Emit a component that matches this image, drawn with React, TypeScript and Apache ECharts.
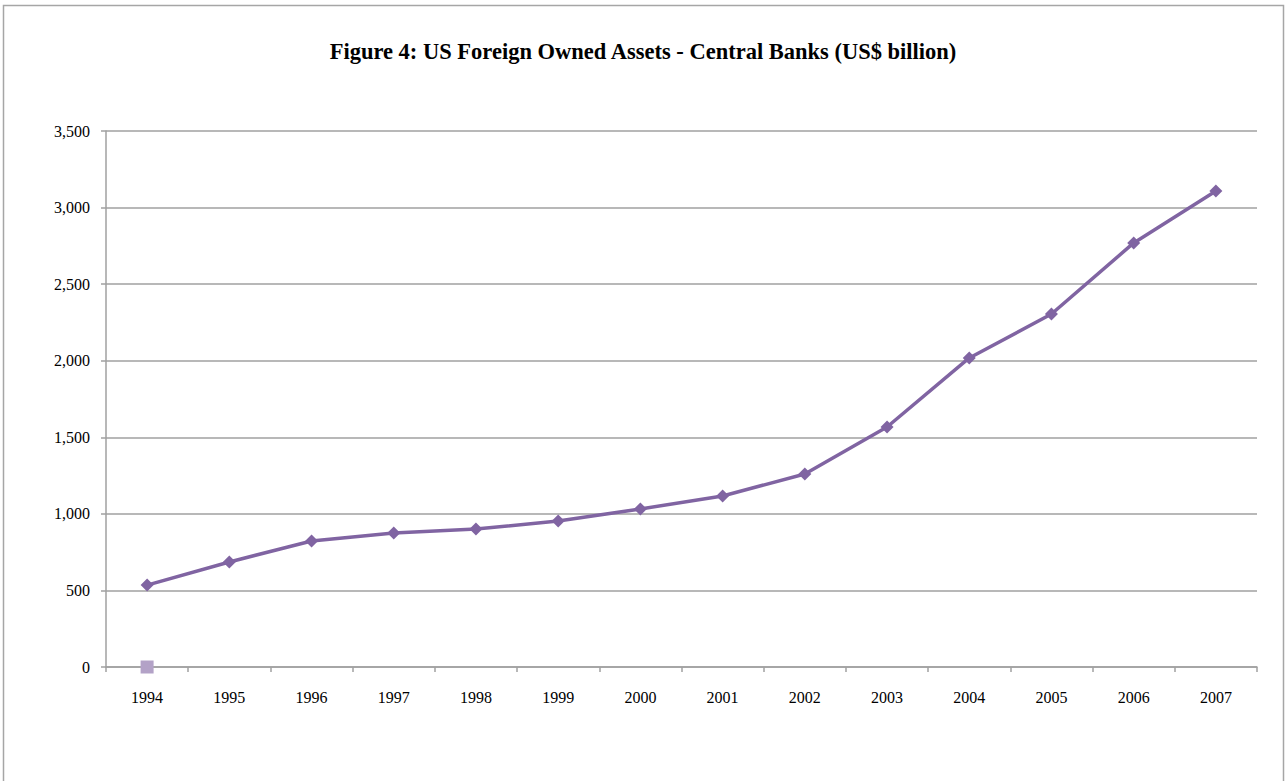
import React, { useEffect, useRef } from "react";
import * as echarts from "echarts";

const years = ["1994","1995","1996","1997","1998","1999","2000","2001","2002","2003","2004","2005","2006","2007"];
const centralBanks = [535, 686, 823, 875, 901, 953, 1032, 1117, 1260, 1567, 2018, 2305, 2769, 3108];
const secondSeries: (number | null)[] = [0, null, null, null, null, null, null, null, null, null, null, null, null, null];
const titleText = "Figure 4: US Foreign Owned Assets - Central Banks (US$ billion)";

export default function App() {
  const ref = useRef<HTMLDivElement>(null);
  useEffect(() => {
    const chart = echarts.init(ref.current!, null, { renderer: "svg" });
    const font = "'Liberation Serif', serif";
    chart.setOption({
      animation: false,
      backgroundColor: "#ffffff",
      graphic: [
        {
          type: "rect",
          shape: { x: 3.5, y: 5.5, width: 1280, height: 820 },
          style: { fill: "none", stroke: "#a6a6a6", lineWidth: 1.5 },
          silent: true,
        },
      ],
      title: {
        text: titleText,
        left: "center",
        top: 35,
        textStyle: { fontFamily: font, fontWeight: "bold", fontSize: 22.5, color: "#000" },
      },
      grid: { left: 106, right: 29, top: 131, bottom: 114, containLabel: false },
      xAxis: {
        type: "category",
        data: years,
        boundaryGap: true,
        axisLine: { lineStyle: { color: "#a0a0a0", width: 1.5 } },
        axisTick: { show: true, length: 5, lineStyle: { color: "#a0a0a0", width: 1.5 } },
        axisLabel: { fontFamily: font, fontSize: 16, color: "#000", margin: 22 },
      },
      yAxis: {
        type: "value",
        min: 0,
        max: 3500,
        interval: 500,
        axisLine: { show: true, lineStyle: { color: "#a0a0a0", width: 1.5 } },
        axisTick: { show: true, length: 5, lineStyle: { color: "#a0a0a0", width: 1.5 } },
        splitLine: { lineStyle: { color: "#a0a0a0", width: 1.5 } },
        axisLabel: {
          fontFamily: font,
          fontSize: 16,
          color: "#000",
          margin: 16,
          formatter: (v: number) => v.toLocaleString("en-US"),
        },
      },
      series: [
        {
          name: "Central Banks",
          type: "line",
          data: centralBanks,
          symbol: "diamond",
          symbolSize: 13,
          lineStyle: { color: "#8064a2", width: 3.5 },
          itemStyle: { color: "#8064a2" },
        },
        {
          name: "Other",
          type: "line",
          data: secondSeries,
          symbol: "rect",
          symbolSize: 13,
          lineStyle: { width: 0 },
          itemStyle: { color: "#b3a2c7" },
        },
      ],
    });
    return () => chart.dispose();
  }, []);
  return (
    <div
      ref={ref}
      style={{ position: "fixed", left: 0, top: 0, width: 1286, height: 781 }}
    />
  );
}
